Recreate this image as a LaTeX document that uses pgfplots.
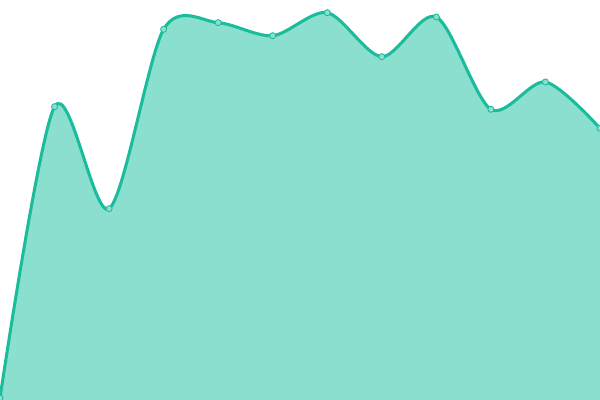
\documentclass[border=0pt]{standalone}
\usepackage{pgfplots}
\pgfplotsset{compat=1.18}
\definecolor{lineC}{HTML}{1ABC9C}
\definecolor{fillC}{HTML}{8ADFCE}
\pgfplotstableread{
x y
0 2
1 293.3
2 191.3
3 370.7
4 377.3
5 364.3
6 387.3
7 343.3
8 383
9 290.7
10 318
11 271.7
}\datatable
\begin{document}
\begin{tikzpicture}
\begin{axis}[
  width=6in, height=4in, scale only axis,
  xmin=0, xmax=11, ymin=0, ymax=400,
  hide axis, clip=true,
]
\addplot[draw=none, fill=fillC, smooth, tension=0.5] table[x=x,y=y]{\datatable} \closedcycle;
\addplot[lineC, line width=2.2pt, smooth, tension=0.5,
  mark=*, mark size=2.2pt,
  mark options={fill=fillC, draw=lineC, line width=0.6pt}] table[x=x,y=y]{\datatable};
\end{axis}
\pgfresetboundingbox
\useasboundingbox (current axis.south west) rectangle (current axis.north east);
\end{tikzpicture}
\end{document}
